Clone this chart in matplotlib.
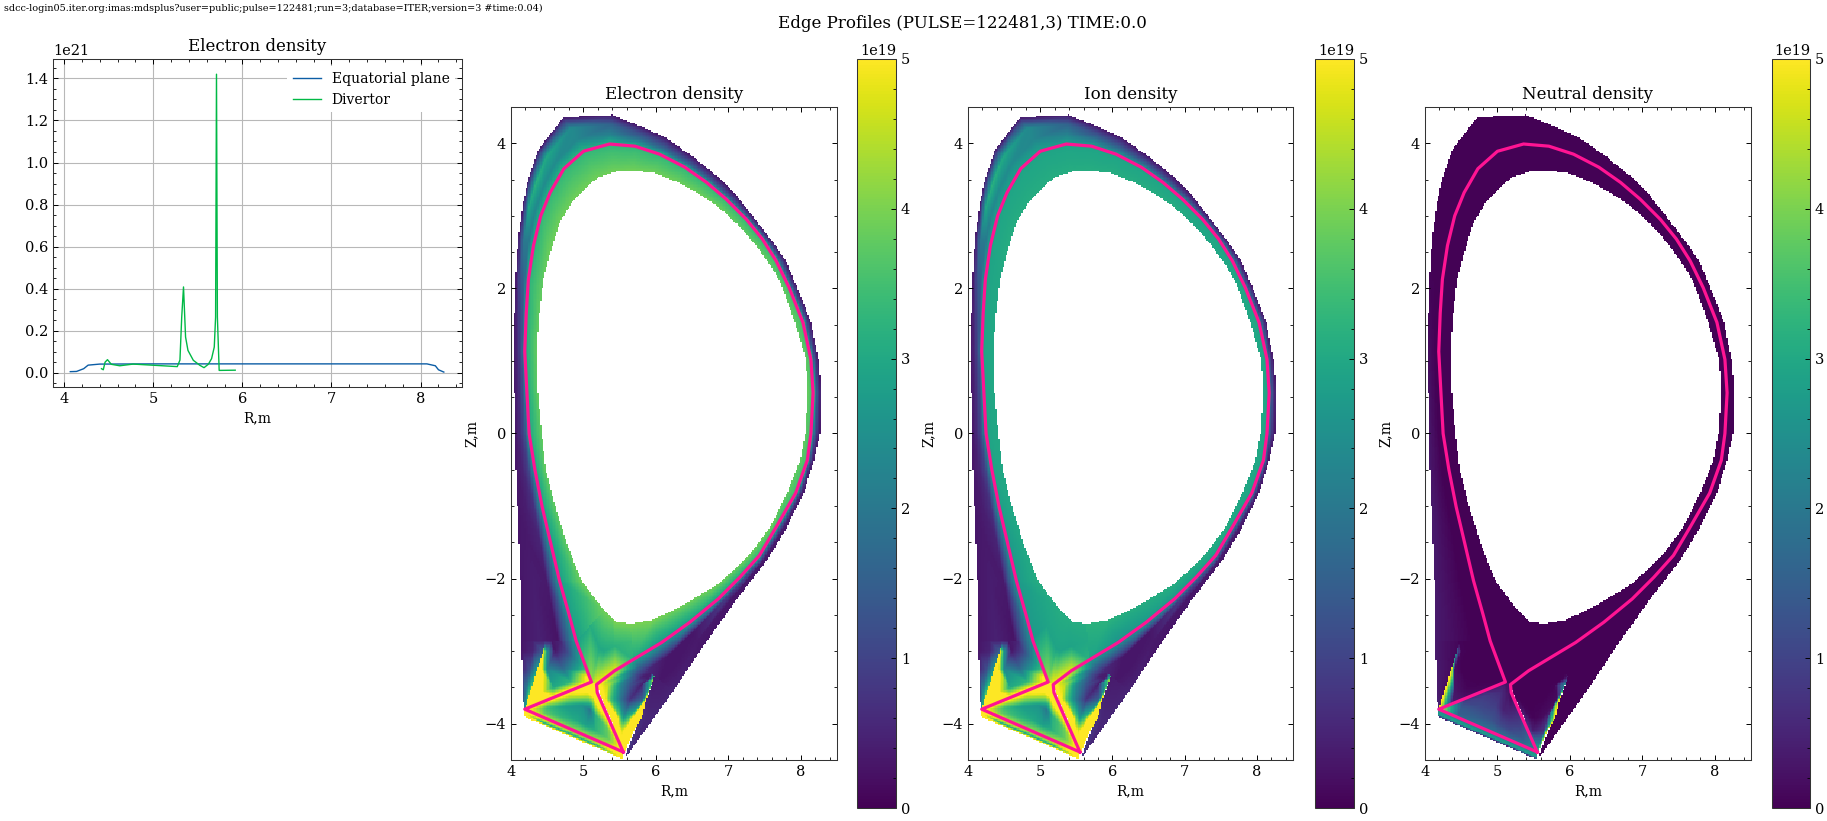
import numpy as np
import matplotlib
matplotlib.use("Agg")
import matplotlib.pyplot as plt
from matplotlib.ticker import MultipleLocator

plt.rcParams.update({
    "font.family": "DejaVu Serif", "font.size": 10,
    "axes.linewidth": 0.75, "axes.edgecolor": "#333333",
    "xtick.direction": "in", "ytick.direction": "in",
    "xtick.top": True, "ytick.right": True,
    "xtick.major.size": 3.6, "ytick.major.size": 3.6,
    "xtick.minor.size": 2.0, "ytick.minor.size": 2.0,
    "xtick.major.width": 0.7, "ytick.major.width": 0.7,
    "xtick.minor.width": 0.6, "ytick.minor.width": 0.6,
    "xtick.labelsize": 10.5, "ytick.labelsize": 10.5,
    "axes.titlesize": 12, "axes.labelsize": 10,
})

W, H = 1827, 821
LINE_BLUE = "#0C5DA5"
LINE_GREEN = "#00B945"
SEP_COLOR = "#FF1493"
SCALE = 1e19

# Midplane and divertor line profiles
eq_r = [4.07, 4.14, 4.22, 4.27, 4.40, 5.0, 6.0, 7.0, 8.07, 8.165, 8.20, 8.26]
eq_ne = [0.005, 0.006, 0.019, 0.036, 0.041, 0.042, 0.042, 0.042, 0.042, 0.033, 0.014, 0.003]
div_r = [4.42, 4.44, 4.46, 4.487, 4.53, 4.625, 4.775, 5.27, 5.30, 5.32, 5.34, 5.363, 5.39, 5.45,
         5.524, 5.57, 5.618, 5.655, 5.685, 5.70, 5.71, 5.72, 5.74, 5.92]
div_ne = [0.019, 0.014, 0.05, 0.062, 0.04, 0.033, 0.041, 0.029, 0.06, 0.265, 0.408, 0.17, 0.106, 0.059,
          0.035, 0.024, 0.04, 0.067, 0.122, 0.265, 1.42, 0.265, 0.011, 0.012]

# Separatrix polyline, from the outer target round the plasma to the inner target and back
sep_line_r = [5.55, 5.29, 5.19, 5.18, 5.43, 5.68, 6.08, 6.47, 6.86, 7.16, 7.43, 7.66, 7.93, 8.09, 8.14, 8.17,
              8.14, 8.03, 7.84, 7.66, 7.47, 7.25, 6.97, 6.70, 6.40, 6.05, 5.71, 5.36, 5.00, 4.73, 4.54,
              4.41, 4.31, 4.24, 4.21, 4.19, 4.22, 4.25, 4.33, 4.43, 4.55, 4.67, 4.80, 4.90, 5.11, 4.19, 5.55]
sep_line_z = [-4.39, -3.80, -3.57, -3.46, -3.27, -3.12, -2.88, -2.60, -2.28, -1.98, -1.68, -1.29, -0.82, -0.37,
              0.0, 0.56, 1.02, 1.53, 2.01, 2.38, 2.68, 2.95, 3.23, 3.46, 3.67, 3.85, 3.96, 3.99, 3.89, 3.65,
              3.32, 3.00, 2.59, 2.125, 1.66, 1.13, 0.56, 0.0, -0.50, -1.01, -1.52, -2.03, -2.49, -2.86,
              -3.425, -3.80, -4.39]

# Ring stations: core edge, separatrix and outer grid edge
ring_in_r = [5.28, 4.97, 4.77, 4.61, 4.48, 4.42, 4.37, 4.35, 4.39, 4.445, 4.54, 4.67, 4.84, 5.02, 5.20, 5.43, 5.68,
             5.98, 6.28, 6.56, 6.83, 7.11, 7.36, 7.54, 7.71, 7.91, 8.06, 8.09, 8.05, 7.98, 7.80, 7.57, 7.25, 6.86,
             6.33, 5.94, 5.64]
ring_in_z = [-2.44, -2.03, -1.52, -1.01, -0.50, 0.0, 0.56, 1.13, 1.66, 2.125, 2.49, 2.91, 3.19, 3.38, 3.53, 3.61, 3.63,
             3.59, 3.47, 3.32, 3.14, 2.89, 2.61, 2.36, 2.08, 1.53, 1.02, 0.56, 0.0, -0.37, -0.82, -1.29, -1.71, -2.07,
             -2.39, -2.57, -2.62]
ring_sep_r = [4.90, 4.67, 4.55, 4.43, 4.33, 4.25, 4.22, 4.19, 4.21, 4.24, 4.31, 4.41, 4.54, 4.73, 5.00, 5.36, 5.71,
              6.05, 6.40, 6.70, 6.97, 7.25, 7.47, 7.66, 7.84, 8.03, 8.14, 8.17, 8.14, 8.09, 7.93, 7.66, 7.40, 6.96,
              6.47, 6.08, 5.68]
ring_sep_z = [-2.86, -2.03, -1.52, -1.01, -0.50, 0.0, 0.56, 1.13, 1.66, 2.125, 2.59, 3.00, 3.32, 3.65, 3.89, 3.99, 3.96,
              3.85, 3.67, 3.46, 3.23, 2.95, 2.68, 2.38, 2.01, 1.53, 1.02, 0.56, 0.0, -0.37, -0.82, -1.29, -1.72, -2.18,
              -2.60, -2.88, -3.12]
ring_out_r = [4.14, 4.13, 4.11, 4.09, 4.07, 4.06, 4.05, 4.04, 4.05, 4.064, 4.10, 4.17, 4.24, 4.37, 4.72, 5.39, 5.82,
              6.14, 6.51, 6.83, 7.11, 7.37, 7.61, 7.78, 7.96, 8.13, 8.23, 8.27, 8.25, 8.17, 8.03, 7.79, 7.52, 7.11,
              6.61, 6.30, 6.23]
ring_out_z = [-2.86, -2.03, -1.52, -1.01, -0.50, 0.0, 0.56, 1.13, 1.66, 2.125, 2.70, 3.19, 3.51, 3.90, 4.36, 4.39, 4.22,
              4.07, 3.81, 3.55, 3.27, 2.94, 2.63, 2.38, 1.96, 1.53, 1.02, 0.56, 0.0, -0.37, -0.82, -1.31, -1.75, -2.28,
              -2.98, -3.45, -3.55]

# Electron density at the ring stations, in 1e19 m^-3
ne_ring_in = [3.9, 3.9, 3.8, 3.8, 3.8, 3.8, 3.8, 3.8, 3.8, 3.8, 3.9, 3.9, 3.9, 3.9, 3.9, 3.9, 3.9, 3.9, 3.9,
              3.9, 3.9, 3.8, 3.8, 3.8, 3.8, 3.8, 3.8, 3.8, 3.8, 3.8, 3.8, 3.9, 3.9, 3.9, 3.9, 4.0, 4.0]
ne_ring_sep = [2.8, 2.8, 2.8, 2.9, 3.0, 3.0, 3.0, 3.0, 3.1, 3.2, 3.2, 3.3, 3.3, 3.3, 3.3, 3.3, 3.3, 3.3, 3.3,
               3.3, 3.3, 3.3, 3.3, 3.4, 3.4, 3.4, 3.4, 3.4, 3.4, 3.4, 3.4, 3.3, 3.2, 2.9, 2.8, 2.7, 3.0]
ne_ring_s1 = [0.25, 0.35, 0.5, 0.7, 1.0, 1.2, 1.2, 1.2, 1.4, 1.7, 2.0, 2.3, 2.4, 2.4, 2.3, 2.2, 2.0, 1.8, 1.7,
              1.6, 1.6, 1.6, 1.6, 1.6, 1.5, 1.5, 1.5, 1.5, 1.5, 1.5, 1.5, 1.4, 1.4, 0.9, 0.3, 0.3, 0.6]
ne_ring_s2 = [0.45, 0.4, 0.35, 0.4, 0.5, 0.6, 0.6, 0.6, 0.8, 1.2, 2.0, 3.0, 3.2, 3.0, 2.4, 1.6, 1.2, 1.0, 0.9,
              0.8, 0.8, 0.8, 0.8, 0.8, 0.8, 0.8, 0.7, 0.7, 0.7, 0.6, 0.5, 0.4, 0.35, 0.3, 0.35, 0.3, 0.3]
ne_ring_out = [0.3, 0.3, 0.3, 0.3, 0.3, 0.3, 0.3, 0.3, 0.3, 0.3, 0.3, 0.3, 0.3, 0.3, 0.3, 0.3, 0.3, 0.3, 0.3,
               0.3, 0.3, 0.3, 0.3, 0.3, 0.3, 0.3, 0.3, 0.3, 0.3, 0.3, 0.3, 0.3, 0.3, 0.3, 0.3, 0.45, 0.5]

# Ion density differs from the electrons only inside the separatrix
ni_ring_in = [3.1, 3.1, 3.0, 3.0, 3.0, 3.0, 3.0, 3.0, 3.0, 3.0, 3.1, 3.1, 3.1, 3.1, 3.1, 3.1, 3.1, 3.1, 3.1,
              3.1, 3.1, 3.0, 3.0, 3.0, 3.0, 3.0, 3.0, 3.0, 3.0, 3.0, 3.0, 3.1, 3.1, 3.1, 3.1, 3.2, 3.2]
ni_ring_sep = [2.7, 2.7, 2.7, 2.8, 2.9, 2.9, 2.9, 2.9, 2.9, 2.9, 2.9, 2.9, 2.9, 2.9, 2.9, 2.9, 2.9, 2.9, 2.9,
               2.9, 2.9, 2.9, 2.9, 2.9, 2.9, 2.9, 2.9, 2.9, 2.9, 2.9, 2.9, 2.9, 2.8, 2.7, 2.7, 2.6, 2.9]

# Neutrals are negligible on the ring apart from the inner far scrape-off layer
n0_ring_in = [0.02] * 37
n0_ring_out = [0.35, 0.35, 0.35, 0.35, 0.3, 0.3, 0.25, 0.2, 0.1, 0.05] + [0.02] * 27

# Core wedge above the X-point
wedge_r = [[5.28, 5.33, 5.38, 5.43, 5.64], [5.09, 5.22, 5.28, 5.43, 5.66], [4.90, 5.11, 5.18, 5.43, 5.68]]
wedge_z = [[-2.44, -2.49, -2.54, -2.59, -2.62], [-2.65, -2.97, -3.00, -2.93, -2.87], [-2.86, -3.425, -3.46, -3.27, -3.12]]
wedge_ne = [[3.9, 3.9, 3.9, 4.0, 4.0], [3.1, 3.0, 3.0, 3.2, 3.4], [2.8, 4.3, 5.0, 4.8, 3.2]]
wedge_ni = [[3.1, 3.1, 3.1, 3.1, 3.1], [2.9, 2.9, 2.9, 2.9, 3.0], [2.8, 4.3, 5.0, 4.8, 3.2]]
wedge_n0 = [[0.02] * 5, [0.02] * 5, [0.02] * 5]

# Inner divertor, between the wall tile edge and the separatrix leg
inner_div_r = [[4.46, 4.56, 4.68, 4.80, 4.90], [4.445, 4.50, 4.60, 4.76, 4.95], [4.36, 4.41, 4.50, 4.72, 5.04],
               [4.22, 4.40, 4.58, 4.82, 5.09], [4.19, 4.37, 4.57, 4.83, 5.11]]
inner_div_z = [[-2.86, -2.86, -2.86, -2.86, -2.86], [-3.0, -3.0, -3.0, -3.0, -3.0], [-3.25, -3.25, -3.25, -3.25, -3.25],
               [-3.70, -3.58, -3.50, -3.42, -3.36], [-3.80, -3.72, -3.64, -3.54, -3.425]]
inner_div_ne = [[0.5, 0.3, 0.5, 1.7, 2.7], [5.0, 2.5, 0.3, 1.0, 2.8], [5.5, 5.5, 2.3, 1.8, 3.6],
                [5.5, 5.5, 3.0, 3.3, 5.5], [5.5, 5.5, 5.5, 5.5, 5.5]]
inner_div_n0 = [[0.05, 0.03, 0.02, 0.02, 0.02], [1.5, 0.05, 0.03, 0.02, 0.02], [5.5, 0.2, 0.03, 0.02, 0.02],
                [5.5, 0.3, 0.05, 0.03, 0.02], [5.5, 0.4, 0.2, 0.1, 0.02]]

# Strip between the inner tile edge and the outer grid edge
inner_strip_r = [[4.14, 4.30, 4.46], [4.145, 4.30, 4.445], [4.155, 4.26, 4.36], [4.165, 4.21, 4.26], [4.18, 4.185, 4.19]]
inner_strip_z = [[-2.86, -2.86, -2.86], [-3.0, -3.0, -3.0], [-3.25, -3.25, -3.25], [-3.6, -3.6, -3.6], [-3.88, -3.88, -3.88]]
inner_strip_ne = [[0.3, 0.45, 0.5], [0.3, 0.5, 1.5], [0.5, 1.2, 2.8], [1.0, 2.5, 4.0], [3.0, 3.0, 3.0]]
inner_strip_n0 = [[0.35, 0.2, 0.1], [0.35, 0.2, 0.1], [0.35, 0.25, 0.15], [0.4, 0.3, 0.2], [0.6, 0.6, 0.6]]

# Outer divertor, between the separatrix leg and the wall tile edge
outer_div_r = [[5.53, 5.535, 5.54, 5.545, 5.55, 5.555, 5.56], [5.43, 5.47, 5.49, 5.53, 5.58, 5.64, 5.69],
               [5.37, 5.455, 5.50, 5.55, 5.62, 5.685, 5.80], [5.25, 5.30, 5.36, 5.50, 5.64, 5.82, 5.86],
               [5.18, 5.23, 5.34, 5.50, 5.64, 5.80, 5.93], [5.43, 5.52, 5.62, 5.72, 5.82, 5.90, 5.96],
               [5.68, 5.73, 5.78, 5.83, 5.88, 5.93, 5.98]]
outer_div_z = [[-4.33, -4.34, -4.35, -4.36, -4.37, -4.38, -4.40], [-4.10, -4.10, -4.10, -4.10, -4.10, -4.10, -4.10],
               [-3.92, -3.92, -3.92, -3.92, -3.92, -3.92, -3.92], [-3.66, -3.66, -3.66, -3.66, -3.66, -3.66, -3.66],
               [-3.46, -3.46, -3.46, -3.46, -3.46, -3.46, -3.46], [-3.27, -3.28, -3.30, -3.32, -3.35, -3.38, -3.39],
               [-3.12, -3.16, -3.20, -3.235, -3.27, -3.30, -3.34]]
outer_div_ne = [[5.5, 5.5, 5.5, 5.5, 5.5, 5.5, 5.5], [5.5, 5.5, 5.5, 4.8, 5.5, 5.5, 5.5],
                [5.5, 5.5, 3.8, 2.7, 3.5, 5.5, 5.5], [5.5, 5.0, 3.7, 2.0, 0.7, 1.6, 5.5],
                [5.5, 5.0, 4.5, 2.4, 1.3, 0.4, 3.5], [4.5, 3.8, 2.2, 1.2, 0.4, 0.4, 4.5],
                [3.0, 2.2, 1.6, 1.1, 0.7, 0.4, 3.5]]
outer_div_n0 = [[3.0, 3.0, 3.0, 3.0, 3.0, 3.0, 3.0], [0.9, 0.6, 0.4, 0.5, 0.6, 0.7, 5.5],
                [0.5, 0.1, 0.05, 0.08, 0.15, 0.5, 5.5], [0.05, 0.02, 0.02, 0.02, 0.03, 0.15, 5.5],
                [0.02, 0.02, 0.02, 0.02, 0.02, 0.05, 2.5], [0.02, 0.02, 0.02, 0.02, 0.02, 0.03, 1.0],
                [0.02, 0.02, 0.02, 0.02, 0.02, 0.02, 0.3]]

# Strip between the outer tile edge and the outer grid edge
outer_strip_r = [[5.98, 6.10, 6.23], [5.78, 5.87, 5.98], [5.57, 5.58, 5.59]]
outer_strip_z = [[-3.34, -3.44, -3.55], [-3.90, -3.90, -3.90], [-4.45, -4.45, -4.45]]
outer_strip_ne = [[0.35, 0.4, 0.5], [0.7, 0.55, 0.55], [1.0, 0.8, 0.6]]
outer_strip_n0 = [[0.02, 0.02, 0.02], [0.02, 0.02, 0.02], [0.05, 0.05, 0.05]]

# Private flux region, leg side to target side
private_top_r = [4.19, 4.55, 4.85, 5.11, 5.18, 5.19, 5.29, 5.55]
private_top_z = [-3.80, -3.65, -3.53, -3.425, -3.46, -3.57, -3.80, -4.39]
private_bot_r = [4.19, 4.45, 4.65, 4.85, 5.00, 5.15, 5.35, 5.55]
private_bot_z = [-3.80, -3.91, -4.00, -4.08, -4.15, -4.22, -4.30, -4.39]
private_frac = [0.0, 0.2, 0.5, 0.8, 1.0]
private_ne = [[5.5, 5.5, 5.5, 5.5, 5.5], [5.5, 4.6, 3.4, 3.8, 4.8], [5.5, 4.5, 2.8, 3.3, 4.4], [5.5, 5.3, 2.6, 3.0, 4.2],
              [5.5, 5.5, 2.0, 2.8, 4.3], [5.5, 5.5, 3.2, 3.2, 4.4], [5.5, 5.0, 3.8, 3.8, 4.6], [5.5, 5.5, 5.5, 5.5, 5.5]]
private_n0 = [[5.0, 5.0, 5.0, 5.0, 5.0], [0.6, 1.0, 1.4, 1.5, 1.9], [0.4, 0.9, 1.1, 1.5, 1.9], [0.25, 0.6, 0.9, 1.3, 1.9],
              [0.15, 0.3, 0.45, 1.1, 1.9], [0.1, 0.25, 0.6, 1.1, 1.9], [0.3, 0.7, 1.0, 1.4, 2.0], [2.5, 2.5, 2.5, 2.5, 2.5]]

# Strip under the target line down to the lower grid edge
target_edge_r = [4.17, 4.45, 4.85, 5.15, 5.54]
target_edge_z = [-3.90, -4.02, -4.19, -4.32, -4.49]
target_line_r = [4.19, 4.45, 4.85, 5.15, 5.55]
target_line_z = [-3.80, -3.91, -4.08, -4.22, -4.39]
target_frac = [0.0, 0.4, 0.7, 1.0]
target_ne = [[5.5, 5.5, 5.5, 5.5], [5.0, 4.5, 3.0, 5.5], [4.4, 4.2, 3.0, 5.5], [4.6, 4.2, 3.0, 5.5], [5.5, 5.5, 5.5, 5.5]]
target_n0 = [[2.5, 2.6, 2.8, 0.4], [2.0, 2.5, 2.8, 0.3], [2.0, 2.5, 2.8, 0.3], [2.0, 2.5, 2.8, 0.3], [2.5, 2.6, 2.8, 0.4]]

# Colour scale limits and output grid step in metres
VMIN, VMAX = 0.0, 5.0
GRID_STEP = 0.02


def blend(a, b, fractions):
    a, b = np.asarray(a, float), np.asarray(b, float)
    return np.array([a + f * (b - a) for f in fractions])


def ring_mesh():
    core = np.array([ring_in_r, ring_sep_r])
    corez = np.array([ring_in_z, ring_sep_z])
    sol = blend(ring_sep_r, ring_out_r, [1 / 3, 2 / 3, 1.0])
    solz = blend(ring_sep_z, ring_out_z, [1 / 3, 2 / 3, 1.0])
    return np.vstack([core, sol]), np.vstack([corez, solz])


ring_r, ring_z = ring_mesh()
ne_ring = np.array([ne_ring_in, ne_ring_sep, ne_ring_s1, ne_ring_s2, ne_ring_out])
ni_ring = np.array([ni_ring_in, ni_ring_sep, ne_ring_s1, ne_ring_s2, ne_ring_out])
n0_ring = np.array([n0_ring_in, n0_ring_in, n0_ring_in,
                    (np.array(n0_ring_in) + n0_ring_out) / 2, n0_ring_out])

private_r = blend(private_top_r, private_bot_r, private_frac).T
private_z = blend(private_top_z, private_bot_z, private_frac).T
target_r = blend(target_line_r, target_edge_r, target_frac).T
target_z = blend(target_line_z, target_edge_z, target_frac).T

regions = [
    (ring_r, ring_z, ne_ring, ni_ring, n0_ring),
    (wedge_r, wedge_z, wedge_ne, wedge_ni, wedge_n0),
    (inner_strip_r, inner_strip_z, inner_strip_ne, inner_strip_ne, inner_strip_n0),
    (inner_div_r, inner_div_z, inner_div_ne, inner_div_ne, inner_div_n0),
    (outer_strip_r, outer_strip_z, outer_strip_ne, outer_strip_ne, outer_strip_n0),
    (outer_div_r, outer_div_z, outer_div_ne, outer_div_ne, outer_div_n0),
    (target_r, target_z, target_ne, target_ne, target_n0),
    (private_r, private_z, private_ne, private_ne, private_n0),
]


def fill_triangle(field, rc, zc, p, v):
    (x0, y0), (x1, y1), (x2, y2) = p
    det = (y1 - y2) * (x0 - x2) + (x2 - x1) * (y0 - y2)
    if abs(det) < 1e-9:
        return
    i0 = np.searchsorted(rc, min(x0, x1, x2))
    i1 = np.searchsorted(rc, max(x0, x1, x2))
    j0 = np.searchsorted(zc, min(y0, y1, y2))
    j1 = np.searchsorted(zc, max(y0, y1, y2))
    if i1 <= i0 or j1 <= j0:
        return
    xx, yy = np.meshgrid(rc[i0:i1], zc[j0:j1])
    a = ((y1 - y2) * (xx - x2) + (x2 - x1) * (yy - y2)) / det
    b = ((y2 - y0) * (xx - x2) + (x0 - x2) * (yy - y2)) / det
    c = 1 - a - b
    inside = (a >= -1e-6) & (b >= -1e-6) & (c >= -1e-6)
    sub = field[j0:j1, i0:i1]
    sub[inside] = (a * v[0] + b * v[1] + c * v[2])[inside]


def rasterize(species):
    rc = np.arange(4.0 + GRID_STEP / 2, 8.5, GRID_STEP)
    zc = np.arange(-4.5 + GRID_STEP / 2, 4.5, GRID_STEP)
    field = np.full((zc.size, rc.size), np.nan)
    for region in regions:
        r, z = np.asarray(region[0], float), np.asarray(region[1], float)
        val = np.asarray(region[2 + species], float)
        for i in range(r.shape[0] - 1):
            for j in range(r.shape[1] - 1):
                a = (r[i, j], z[i, j])
                b = (r[i + 1, j], z[i + 1, j])
                c = (r[i + 1, j + 1], z[i + 1, j + 1])
                d = (r[i, j + 1], z[i, j + 1])
                va = val[i, j]
                vb = val[i + 1, j]
                vc = val[i + 1, j + 1]
                vd = val[i, j + 1]
                fill_triangle(field, rc, zc, (a, b, c), (va, vb, vc))
                fill_triangle(field, rc, zc, (a, c, d), (va, vc, vd))
    return np.ma.masked_invalid(field)


def place(fig, left, top, right, bottom):
    return fig.add_axes([left / W, 1 - bottom / H, (right - left) / W, (bottom - top) / H])


fig = plt.figure(figsize=(W / 100, H / 100), dpi=100)

fig.text(4 / W, 1 - 8 / H, "sdcc-login05.iter.org:imas:mdsplus?user=public;pulse=122481;run=3;database=ITER;version=3 #time:0.04)",
         fontsize=6.93, ha="left", va="center")
fig.text(962 / W, 1 - 23 / H, "Edge Profiles (PULSE=122481,3) TIME:0.0", fontsize=12, ha="center", va="center")

# Line profiles
ax = place(fig, 53, 59.5, 462, 387)
ax.plot(eq_r, np.array(eq_ne) * 1e21, color=LINE_BLUE, lw=1.0, label="Equatorial plane")
ax.plot(div_r, np.array(div_ne) * 1e21, color=LINE_GREEN, lw=1.0, label="Divertor")
ax.set_xlim(3.876, 8.464)
ax.set_ylim(-0.068e21, 1.49e21)
ax.xaxis.set_major_locator(MultipleLocator(1))
ax.xaxis.set_minor_locator(MultipleLocator(0.2))
ax.yaxis.set_major_locator(MultipleLocator(0.2e21))
ax.yaxis.set_minor_locator(MultipleLocator(0.05e21))
ax.grid(True, color="#b8b8b8", lw=0.8)
ax.set_axisbelow(True)
ax.set_xlabel("R,m")
ax.set_title("Electron density")
ax.legend(loc="upper right", frameon=True, framealpha=1.0, edgecolor="none", facecolor="white", fontsize=10)

panels = [
    ("Electron density", 0, (511, 837), (857, 896)),
    ("Ion density", 1, (968, 1293), (1315, 1354)),
    ("Neutral density", 2, (1425, 1751), (1772, 1810)),
]
for title, species, (x0, x1), (c0, c1) in panels:
    field = rasterize(species)
    ax = place(fig, x0, 107, x1, 760)
    image = ax.imshow(field * SCALE, origin="lower", extent=(4.0, 8.5, -4.5, 4.5), aspect="auto",
                      interpolation="nearest", cmap="viridis", vmin=VMIN * SCALE, vmax=VMAX * SCALE)
    ax.plot(sep_line_r, sep_line_z, color=SEP_COLOR, lw=2.3, solid_joinstyle="round")
    ax.set_xlim(4.0, 8.5)
    ax.set_ylim(-4.5, 4.5)
    ax.xaxis.set_major_locator(MultipleLocator(1))
    ax.xaxis.set_minor_locator(MultipleLocator(0.2))
    ax.yaxis.set_major_locator(MultipleLocator(2))
    ax.yaxis.set_minor_locator(MultipleLocator(0.5))
    ax.set_xlabel("R,m")
    ax.set_ylabel("Z,m")
    ax.set_title(title)
    cax = place(fig, c0, 59, c1, 808)
    cb = fig.colorbar(image, cax=cax)
    cb.outline.set_linewidth(0.75)
    cb.ax.yaxis.set_major_locator(MultipleLocator(1 * SCALE))
    cb.ax.yaxis.set_minor_locator(MultipleLocator(0.2 * SCALE))
    cb.ax.tick_params(which="both", left=False, right=True, direction="in")

fig.savefig("out.png", dpi=100)
